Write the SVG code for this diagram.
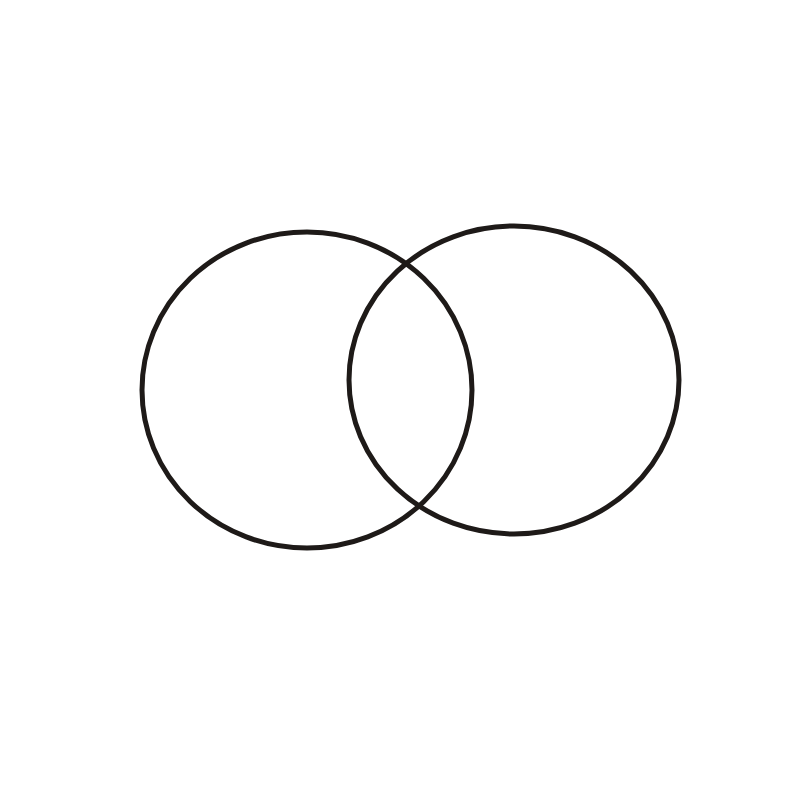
<svg xmlns="http://www.w3.org/2000/svg" width="800" height="800" viewBox="0 0 800 800">
<style>.ring{fill:none;stroke:#1e1a18;stroke-width:5}</style>
<rect width="800" height="800" fill="#ffffff"/>
<g id="left-circle"><ellipse class="ring" cx="307" cy="390" rx="165" ry="158"/></g>
<g id="right-circle"><ellipse class="ring" cx="514" cy="380" rx="165" ry="154"/></g>
</svg>
